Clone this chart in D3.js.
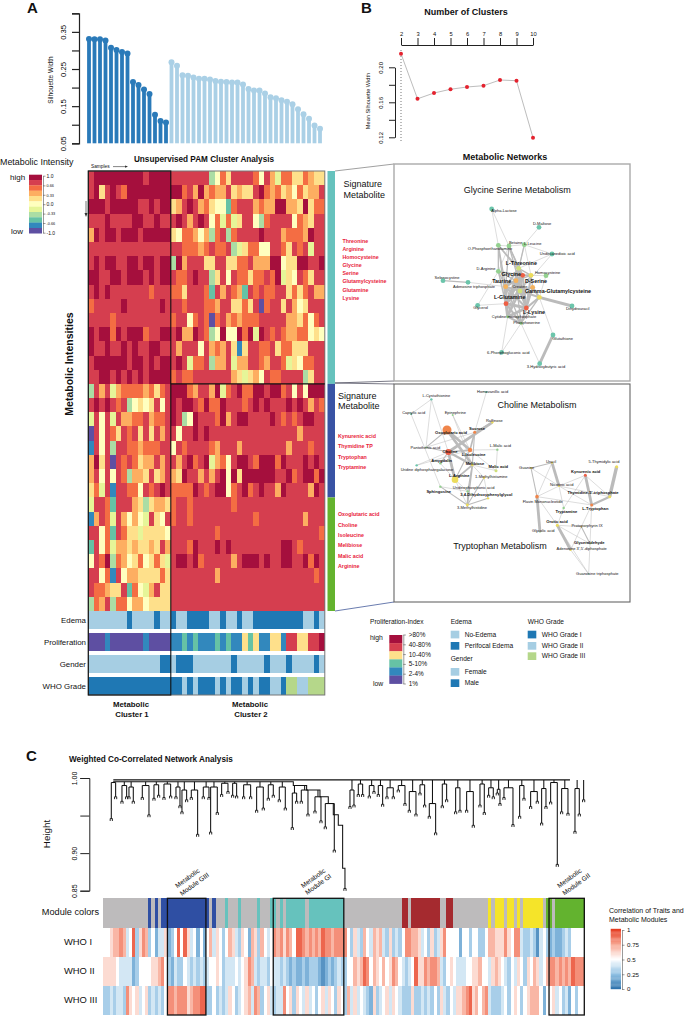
<!DOCTYPE html>
<html>
<head>
<meta charset="utf-8">
<script src="https://cdn.jsdelivr.net/npm/d3@7"></script>
<style>
body { margin: 0; background: #fff; }
svg { display: block; font-family: "Liberation Sans", Arial, sans-serif; }
.cells rect { shape-rendering: crispEdges; }
</style>
</head>
<body>
<svg id="fig" width="685" height="1016"></svg>
<script>
// panel A silhouette widths
const silCluster1 = [.331,.330,.330,.327,.307,.301,.296,.292,.215,.207,.195,.183,.127,.110,.106];
const silCluster2 = [.268,.259,.233,.232,.227,.224,.224,.222,.218,.216,.215,.214,.214,.208,.196,.192,.192,.184,.174,.171,.166,.162,.155,.142,.128,.116,.098,.089];
// panel B
const clusterCounts = [2,3,4,5,6,7,8,9,10];
const meanSil = [.2155,.164,.1706,.1749,.1775,.179,.1855,.1847,.1195];

// heatmap, one letter per cell, a = 1.0 ... k = -1.0
const heatLevels = ["a","b","c","d","e","f","g","h","i","j","k"];
const heatColors = ["#a50f3d","#d53e4f","#f46d43","#fdae61","#fee08b","#ffffbf","#e6f598","#abdda4","#66c2a5","#3288bd","#5e4fa2"];
const heatRows = [
  "baaaaaaaaabaaaa"+"bbbbbbbhfcebbbbcfbdgcceecdee",
  "baebabcaaaaaaaa"+"aacbdadcddbedeebacdcedfceddb",
  "aaabaaaaabbabaa"+"edbabdcefficbbbdcddaaddeaecc",
  "bbbabbbbaabbabb"+"babdbabfcgcgebbfhcbbbbfcdebb",
  "dabaabaaabaaaaa"+"efccdfdhcbhcbbbbabbbdcccdabb",
  "bbbbbbbbbbbbbbb"+"bbcccdcbccbhgeccffbbcebcbgbb",
  "babaabbaabaabaa"+"hadbbbeebbeeccbdddaafeeaabba",
  "aabbaabaaababaa"+"bccbabbhebfbcceccbcagefbcebb",
  "bababbbbbbbcbbb"+"ccebbbcibdbcdibcbccbbececbdd",
  "cbbbbbabbbbbbab"+"bbcbbbccdbbeecebkcbbebdfebbb",
  "bbbbcbbbbbbbbbb"+"cbbfcbckcbdcdcccbbbbbddecfcb",
  "abaacabaaacbbaa"+"baddabchfaffacagabcbcddccfef",
  "abbabbababbaabb"+"bdbbbfbdcdbejebbccbecceeebbb",
  "baaaaaabaababaa"+"babgccbhddbgddbbcdbbcgefccbb",
  "bbaababababaaaa"+"cbccbbbbbbbdegedfbccbbbbhebb",
  "hbdbgdccccdcecb"+"aaacdbbdagcbaccaabaacbfbfaaa",
  "bababcbhfefebfb"+"abaabcaccabbbcbababbbababdbc",
  "gbfbgbddccbdccb"+"abhfabbbcadbaabbbbabcbcbaabb",
  "kbfbcebcbebebdb"+"bfbbababbbbbbbbbbbbbbbbdbbbb",
  "jbfbhbbccdcccbb"+"fbcbbbbcdbbbdbbbbbbbbdbbbcbb",
  "daebkbcbceddbdb"+"bdbacbagdcfbaabcaaacabbbabab",
  "dbfbfbchddebedb"+"deabbdbdbafaeaaaaaabbacbaaca",
  "ecgbjbbccfbcbab"+"ccccabcbaafcbacbabbdabbbbdab",
  "gbbcibbbdehedde"+"cbbcbbbbbbbcbbbbbbbbbbbbbbbb",
  "jdbcgbdfdfgbefb"+"cbbcbbbbbbbbbbbcbbbbbbbbdbbb",
  "bbfcibceegeeeef"+"bbbbbbbbcbbbbbbbbbbbbbbbbbbc",
  "ibfcgddedeedebd"+"bbbcabbbababbbbbbbbbaabcbbbb",
  "fbcahcdfecfeceg"+"baabacbbbbbdbaaababbaabbacab",
  "bbfcjbfddeeeece"+"bbbbbbbbdbbbbbbbbbbbbbbbbbcb",
  "bccdeebicfgdbee"+"bbbbbbbbbbbbbbbbbbbbbbbbbbbb",
  "hcdbhccfddfeeee"+"bbbbbbbbbbbbbbbbbbbbbbbbbbbb"
];
const sideGroups = [["#66c2bd",15],["#3953a4",8],["#64b32e",8]];

// annotation strips, L/D/G = light blue, dark blue, green, others as heat letters
const stripNames = ["Edema","Proliferation","Gender","WHO Grade"];
const stripRows = [
  "LLLLLLLDLLLLDLL"+"DLLDDDDLLDLLDLLDDDDDDDDDLLDL",
  "kkkjkkkkkkjkkkk"+"jjijijjjijijjeiejjeejbbeebba",
  "LLLLLLLLLLLLLDD"+"LDDDLLLLLLLDLLLLLDLLLDLLLLDL",
  "DDDDDDDDDDDDDDD"+"DDLDLDDDLDLDDLDLDDLLDGGLLGGG"
];

const sigList1 = ["Threonine","Arginine","Homocysteine","Glycine","Serine","Glutamylcysteine","Glutamine","Lysine"];
const sigList2 = ["Kynurenic acid","Thymidine TP","Tryptophan","Tryptamine"];
const sigList3 = ["Oxoglutaric acid","Choline","Isoleucine","Melibiose","Malic acid","Arginine"];

// network nodes: name, layout x, layout y, colour group, label x, label y, hub, size
const netColors = ["#6cc5ab","#93d18f","#cfe07a","#ecdc5c","#f5b25c","#ee5f45","#f0854a"];
const glyNodes = [
  ["Alpha-Lactose",485,147,0,522,153,0,2.4],["D-Maltose",627,202,0,636,192,0,2.4],["O-Phosphoethanolamine",505,256,1,480,265,0,2.4],
  ["Betaine",537,258,1,557,247,0,2.4],["L-Leucine",583,254,1,608,252,0,2.4],["Undecanedioic acid",666,282,0,682,281,0,2.4],
  ["D-Arginine",505,334,1,468,326,0,2.4],["L-Threonine",566,325,2,574,312,1,2.4],["Glycine",578,346,5,544,345,1,2.4],
  ["D-Serine",603,346,3,618,365,1,2.4],["Homocysteine",648,347,1,653,338,0,2.4],["Selenocystine",339,362,0,351,352,0,2.4],
  ["Adenosine triphosphate",414,367,0,432,380,0,2.4],["",558,362,4,0,0,0,2.4],["Taurine",527,380,4,515,366,1,2.4],
  ["Creatine",570,393,2,570,380,0,2.4],["",608,382,4,0,0,0,2.4],["Gamma-Glutamylcysteine",628,412,3,684,396,1,2.4],
  ["L-Glutamine",528,431,5,539,414,1,2.4],["L-Lysine",589,444,5,612,458,1,2.4],["Glycerol",443,436,0,452,443,0,2.4],
  ["Dihydrouracil",726,438,0,743,445,0,2.4],["Cytidine monophosphate",533,470,1,552,471,0,1.5],["Phosphoserine",573,490,1,590,489,0,1.5],
  ["Glutathione",669,525,0,698,535,0,2.4],["6-Phosphogluconic acid",515,577,0,535,577,0,2.4],["3-Hydroxybutyric acid",629,611,0,648,620,0,2.4]
];
const glyLinks = [[0,2,1],[0,3,1],[1,4,1],[2,3,1],[3,4,1],[11,12,2],[12,14,1],[20,18,1],[20,6,1],[17,21,4],[17,24,1],[24,26,4],[23,26,1],[23,25,1],[25,22,1],[5,4,1],[5,7,1],[5,15,1],
  [2,6,2],[2,7,2],[2,8,2],[2,14,2],[2,18,2],[3,6,1],[3,7,2],[3,8,2],[3,14,2],[3,19,2],[4,7,1],[4,9,1],[4,13,2],[6,8,2],[6,13,2],[6,14,2],[6,18,2],[7,8,3],[7,9,2],[7,13,2],[7,14,3],[7,15,2],[7,18,2],[7,19,2],
  [8,9,3],[8,13,3],[8,14,3],[8,15,3],[8,18,4],[8,19,3],[8,22,2],[9,10,1],[9,13,2],[9,15,2],[9,16,2],[9,19,3],[13,14,3],[13,15,3],[13,18,3],[13,19,3],[13,22,2],[13,23,2],[14,15,3],[14,18,4],[14,19,3],[14,22,3],[14,23,2],
  [15,16,3],[15,17,3],[15,18,3],[15,19,3],[15,22,3],[16,17,3],[16,19,3],[17,19,3],[17,23,2],[18,19,4],[18,22,4],[18,23,3],[19,22,4],[19,23,3],[22,23,3],[10,17,1],[6,22,1],[16,23,1]];
const choNodes = [
  ["L-Cystathionine",304,58,0,319,48,0,1.2],["Homovanillic acid",469,36,0,488,35,0,1],["Caprylic acid",243,102,0,251,99,0,1],
  ["Epinephrine",368,105,1,376,99,0,1],["Raffinose",487,127,3,493,121,0,1.2],["Oxoglutaric acid",351,150,6,363,158,1,4.5],
  ["Sucrose",434,157,6,441,146,1,1.5],["Pantothenic acid",288,202,1,286,203,0,0.8],["Choline",355,216,5,360,215,1,3],
  ["L-Isoleucine",420,210,6,431,223,1,2.2],["L-Malic acid",502,209,1,511,198,0,1.2],["Amygdalin",331,250,1,335,242,1,1.2],
  ["Melibiose",427,255,3,435,251,1,1.2],["Uridine diphosphategalactose",260,256,0,291,270,0,1.2],["Malic acid",498,272,2,505,260,1,1.5],
  ["L-Arginine",375,299,3,388,287,1,3.3],["1-Methylhistamine",462,293,3,484,291,0,1.2],["Sphingosine",331,320,1,326,334,1,1.2],
  ["Uridinephosphonic acid",413,334,1,431,324,0,1.2],["3,4-Dihydroxyphenylglycol",474,355,3,469,344,1,1.2],["3-Methylhistidine",412,375,3,426,384,0,1.4]
];
const choLinks = [[0,2,1],[0,8,1],[0,7,1],[1,6,1],[2,17,1],[3,12,1],[3,9,1],[4,8,5],[5,9,5],[5,12,5],[6,9,3],[6,12,2],[7,8,2],[7,6,1],[8,15,5],[8,12,4],[8,9,3],[9,15,2],[12,15,3],[9,10,1],[9,14,1],[10,14,1],[12,14,1],[12,16,1],[13,8,1],[13,9,1],[12,20,3],[12,18,2],[16,20,2],[17,20,2],[18,20,2],[19,20,2],[16,19,1],[15,18,1],[15,20,1],[17,18,1],[5,7,2],[8,11,2],[11,15,1],[4,6,2]];
const tryNodes = [
  ["Guanine",603,264,3,590,262,0,1],["Uracil",666,248,3,663,244,0,1],["5-Thymidylic acid",860,260,3,822,245,0,1.5],
  ["Kynurenic acid",766,286,5,767,275,1,1.5],["Nicotinic acid",687,318,3,695,313,0,1],["Thymidine-5'-triphosphate",839,350,3,789,338,1,1.5],
  ["Flavin Mononucleotide",621,350,6,638,364,0,1.8],["L-Tryptophan",785,375,6,796,385,1,1.5],["Tryptamine",701,384,1,709,396,1,1.2],
  ["Orotic acid",682,436,3,681,425,1,1.5],["Protoporphyrin IX",754,440,3,771,437,0,0.8],["Glycolic acid",630,456,1,640,452,0,0.8],
  ["Glyceraldehyde",780,491,1,778,488,1,0.8],["Adenosine 3',5'-diphosphate",722,510,3,755,507,0,1],["Guanosine triphosphate",776,582,0,802,581,0,0.8]
];
const tryLinks = [[0,1,2],[0,4,1],[0,6,2],[6,11,5],[1,4,5],[1,6,1],[2,5,6],[3,4,1],[3,5,1],[3,7,5],[4,5,1],[4,7,1],[4,8,1],[5,7,4],[6,9,1],[6,7,1],[8,9,1],[9,10,1],[9,13,5],[9,12,1],[10,13,1],[10,12,2],[9,14,1],[12,14,1],[13,14,1],[7,10,1],[7,12,1],[3,8,1],[4,6,1]];

// legends
const heatTicks = [1,.66,.33,0,-.33,-.66,-1];
const prolifLabels = [">80%","40-80%","10-40%","5-10%","2-4%","1%"];
const prolifLevels = ["a","b","e","i","j","k"];
const stripColors = {L:"#a6cee3",D:"#1f78b4",G:"#b5d78a"};

// panel C: dendrogram stems, leaf position, top height, leaf height
const dendroStems = [
  [334,.984,.946],[347,.994,.975],[366,.990,.969],[380,.988,.975],[387,.988,.975],[400,.980,.969],[427,.988,.974],[447,.990,.951],[462,.986,.973],[476,.991,.977],
  [492,.990,.974],[512,.992,.976],[528,.988,.975],[540,.977,.963],[546,.968,.955],[560,.984,.971],[574,.984,.974],[593,.973,.925],[610,.988,.975],[627,.977,.974],
  [632,.977,.928],[652,.988,.954],[665,.992,.978],[684,.993,.982],[698,.987,.977],[710,.993,.976],[731,.991,.975],[752,.991,.975],[770,.977,.957],[790,.988,.960],
  [805,.988,.973],[820,.991,.977],[838,.988,.971],[856,.977,.960],[877,.973,.934],[890,.980,.969],[904,.984,.969],[924,.978,.952],[945,.975,.956],[963,.973,.943],
  [976,.966,.935],[1003,.951,.904],
  [1050,.984,.962],[1062,.984,.964],[1075,.992,.978],[1088,.992,.978],[1108,.987,.976],[1122,.990,.982],[1135,.990,.978],[1148,.988,.965],[1161,.986,.975],[1180,.987,.975],
  [1195,.990,.984],[1215,.980,.966],[1228,.982,.957],[1248,.978,.952],[1260,.987,.980],[1274,.991,.964],[1288,.966,.949],[1307,.966,.927],[1327,.975,.963],[1340,.992,.971],
  [1367,.973,.955],[1380,.987,.957],[1400,.982,.957],[1420,.978,.937],[1440,.982,.964],[1453,.992,.954],[1466,.987,.977],[1480,.982,.975],[1492,.985,.980],[1500,.977,.966],
  [1512,.987,.974],[1539,.966,.938],[1559,.987,.949],[1572,.990,.973],[1592,.982,.962],[1612,.973,.969],[1625,.966,.940],[1638,.986,.962],[1652,.986,.968],[1672,.994,.885],
  [1685,.986,.955],[1704,.968,.953],[1725,.974,.929],[1738,.986,.952],[1751,.977,.971]
];
// left arm of the tree, falling towards the tallest merge
const spinePos = [340,880,920,960,985,1000,1015,1028,1028,1035,1035];
const spineH = [.995,.990,.984,.975,.966,.951,.937,.927,.880,.880,.853];

const moduleRuns = [["g",14],["b",1],["g",1],["b",1],["g",1],["b",15],["g",1],["b",1],["g",3],["t",1],["g",3],["t",1],["g",5],["t",1],["g",3],["t",2],["g",1],["t",1],["g",1],["t",6],["g",1],["t",11],["g",18],["r",2],["g",1],["r",9],["g",2],["r",2],["g",11],["y",1],["g",1],["y",3],["g",1],["y",2],["g",1],["y",1],["g",1],["y",6],["g",1],["n",2],["g",1],["n",9]];
const moduleColors = {g:"#bdbbbc",b:"#2f4fa3",t:"#66c2bd",r:"#a52a2f",y:"#f5e429",n:"#63b32f"};
// trait correlation, digit / 10 = value
const traitNames = ["WHO I","WHO II","WHO III"];
const traitRows = [
  "5567787459"+"3687352446"+"2359596452"+"5257465357"+"6436527637"+"5458786875"+"9987878798"+"8788885364"+"3754767436"+"3435887764"+"5363468555"+"5255355335"+"7766686588"+"4334314532"+"3223435555",
  "6666544442"+"3555566785"+"3243354343"+"4345565344"+"4545687434"+"4354434323"+"2232333212"+"3234335576"+"7985765756"+"8754345966"+"8788743565"+"4445566755"+"4676543546"+"5365764578"+"8787879888",
  "3343443865"+"6456343435"+"8878886788"+"9933534346"+"5345674873"+"5643448563"+"6546453564"+"6536537464"+"5432634564"+"6543336334"+"3435364354"+"6678967578"+"4333453565"+"3567775255"+"6453425355"
];
const moduleBoxes = [["Module GIII",20,32,2,9],["Module GI",53,75,6,11],["Module GII",139,150,4,11]];
const corrTicks = [1,.75,.5,.25,0];

const svg = d3.select("#fig");
const heatColor = d3.scaleOrdinal(heatLevels, heatColors);
const cellColor = c => stripColors[c] || heatColor(c);

const text = (x, y, str, size, opts = {}) => svg.append("text")
  .attr("x", x).attr("y", y).text(str)
  .attr("font-size", size)
  .attr("font-weight", opts.bold ? "bold" : null)
  .attr("text-anchor", opts.anchor || "start")
  .attr("fill", opts.fill || "#111")
  .attr("transform", opts.rotate ? `rotate(${opts.rotate} ${x} ${y})` : null);

// rotated tick labels as in base R plots
const rotateTicks = (g, dist, size) => {
  g.selectAll("text")
    .attr("transform", "rotate(-90)")
    .attr("x", 0).attr("dy", 0).attr("y", -dist)
    .attr("text-anchor", "middle")
    .attr("font-size", size)
    .attr("font-family", null);
};

text(27, 13, "A", 15, {bold: true});
text(361, 13, "B", 15, {bold: true});
text(26, 761, "C", 15, {bold: true});

// ---- panel A, silhouette
const silValues = silCluster1.concat(silCluster2);
const xSil = d3.scaleBand().domain(d3.range(silValues.length)).range([86.25, 322.75]);
const ySil = d3.scaleLinear().domain([.05, .4]).range([143.3, 13.3]);
const silColor = i => i < silCluster1.length ? "#2a7ab9" : "#aad0e6";

const axisA = svg.append("g").attr("transform", "translate(79,0)")
  .call(d3.axisLeft(ySil).tickValues([.05,.1,.15,.2,.25,.3,.35,.4]).tickSize(7)
    .tickFormat(d => [.05,.15,.25,.35].includes(d) ? d3.format(".2f")(d) : ""));
axisA.selectAll("path,line").attr("stroke", "#222").attr("stroke-width", 1.2);
rotateTicks(axisA, 13, 7.6);
text(53, 80, "Silhouette Width", 6.5, {anchor: "middle", rotate: -90});

svg.append("g").selectAll("line").data(silValues).join("line")
  .attr("x1", (d, i) => xSil(i) + xSil.bandwidth() / 2)
  .attr("x2", (d, i) => xSil(i) + xSil.bandwidth() / 2)
  .attr("y1", ySil(.05)).attr("y2", d => ySil(d))
  .attr("stroke", (d, i) => silColor(i)).attr("stroke-width", 3.8);
svg.append("g").selectAll("circle").data(silValues).join("circle")
  .attr("cx", (d, i) => xSil(i) + xSil.bandwidth() / 2)
  .attr("cy", d => ySil(d)).attr("r", 3)
  .attr("fill", (d, i) => silColor(i));

// ---- panel B, mean silhouette
const xB = d3.scalePoint().domain(clusterCounts).range([401, 533]);
const yB = d3.scaleLinear().domain([.12, .2]).range([137.3, 67.3]);
text(466, 15, "Number of Clusters", 9, {bold: true, anchor: "middle"});
const axisBx = svg.append("g").attr("transform", "translate(0,45)").call(d3.axisTop(xB).tickSize(7).tickSizeOuter(0));
axisBx.selectAll("path,line").attr("stroke", "#222").attr("stroke-width", 1);
axisBx.selectAll("text").attr("font-size", 5.8).attr("font-family", null).attr("dy", 1).attr("fill", "#111");
const axisBy = svg.append("g").attr("transform", "translate(395,0)")
  .call(d3.axisLeft(yB).tickValues([.12,.14,.16,.18,.2]).tickSize(6).tickSizeOuter(0)
    .tickFormat(d => [.12,.16,.2].includes(d) ? d3.format(".2f")(d) : ""));
axisBy.selectAll("path,line").attr("stroke", "#222").attr("stroke-width", 1);
rotateTicks(axisBy, 12, 6);
text(370, 101, "Mean Silhouette Width", 5.6, {anchor: "middle", rotate: -90});
svg.append("line").attr("x1", xB(2)).attr("x2", xB(2)).attr("y1", 50).attr("y2", 143)
  .attr("stroke", "#777").attr("stroke-width", 1).attr("stroke-dasharray", "1,2");
svg.append("path").datum(meanSil)
  .attr("d", d3.line().x((d, i) => xB(clusterCounts[i])).y(d => yB(d)))
  .attr("fill", "none").attr("stroke", "#bdbdbd").attr("stroke-width", 1);
svg.append("g").selectAll("circle").data(meanSil).join("circle")
  .attr("cx", (d, i) => xB(clusterCounts[i])).attr("cy", d => yB(d)).attr("r", 2)
  .attr("fill", "#e4222e");

// ---- heatmap
text(204, 162, "Unsupervised PAM Cluster Analysis", 8.2, {bold: true, anchor: "middle"});
text(0, 165, "Metabolic Intensity", 8.9);
text(91, 168, "Samples", 4.8);
svg.append("line").attr("x1", 113).attr("x2", 127).attr("y1", 166.6).attr("y2", 166.6).attr("stroke", "#333").attr("stroke-width", .6);
svg.append("path").attr("d", "M128,166.6l-3,-1.2v2.4z").attr("fill", "#333");
text(73, 364, "Metabolic Intensities", 10.5, {bold: true, anchor: "middle", rotate: -90});
svg.append("line").attr("x1", 86).attr("x2", 86).attr("y1", 201).attr("y2", 215).attr("stroke", "#555").attr("stroke-width", .8);
svg.append("path").attr("d", "M86,217l-1.5,-4h3z").attr("fill", "#333");

const nCols = heatRows[0].length;
const xHeat = d3.scaleBand().domain(d3.range(nCols)).range([88.3, 324.8]);
const yHeat = d3.scaleBand().domain(d3.range(heatRows.length)).range([171, 611]);
const heatG = svg.append("g").attr("class", "cells");
heatRows.forEach((row, r) => {
  heatG.append("g").selectAll("rect").data(row.split("")).join("rect")
    .attr("x", (d, c) => xHeat(c)).attr("y", yHeat(r))
    .attr("width", xHeat.bandwidth() + .6).attr("height", yHeat.bandwidth() + .6)
    .attr("fill", d => heatColor(d));
});

// annotation strips under the heatmap
const yStrip = d3.scaleBand().domain(stripNames).range([611, 695]).paddingInner(.18);
stripRows.forEach((row, s) => {
  svg.append("g").attr("class", "cells").selectAll("rect").data(row.split("")).join("rect")
    .attr("x", (d, c) => xHeat(c)).attr("y", yStrip(stripNames[s]))
    .attr("width", xHeat.bandwidth() + .6).attr("height", yStrip.bandwidth())
    .attr("fill", d => cellColor(d));
  text(86, yStrip(stripNames[s]) + yStrip.bandwidth() / 2 + 2.6, stripNames[s], 7.9, {anchor: "end"});
});

const split = xHeat(silCluster1.length);
svg.append("rect").attr("x", 88.3).attr("y", 171).attr("width", 236.5).attr("height", 524)
  .attr("fill", "none").attr("stroke", "#777").attr("stroke-width", 1);
svg.append("rect").attr("x", 88.3).attr("y", 171).attr("width", split - 88.3).attr("height", 524)
  .attr("fill", "none").attr("stroke", "#111").attr("stroke-width", 1.1);
svg.append("line").attr("x1", split).attr("x2", 324.8).attr("y1", yHeat(15)).attr("y2", yHeat(15))
  .attr("stroke", "#111").attr("stroke-width", 1.1);

let sideStart = 0;
sideGroups.forEach(([color, count]) => {
  svg.append("rect").attr("x", 327.5).attr("width", 7.5)
    .attr("y", yHeat(sideStart)).attr("height", yHeat.bandwidth() * count).attr("fill", color);
  sideStart += count;
});

text(131, 707, "Metabolic", 7.8, {bold: true, anchor: "middle"});
text(132, 717, "Cluster 1", 7.8, {bold: true, anchor: "middle"});
text(250, 707, "Metabolic", 7.8, {bold: true, anchor: "middle"});
text(251, 717, "Cluster 2", 7.8, {bold: true, anchor: "middle"});

// heat colour legend
const yLegend = d3.scaleBand().domain(heatLevels).range([174.7, 233.3]);
svg.append("g").selectAll("rect").data(heatLevels).join("rect")
  .attr("x", 29).attr("width", 13).attr("y", d => yLegend(d)).attr("height", yLegend.bandwidth() + .2)
  .attr("fill", d => heatColor(d));
const yLegendAxis = d3.scaleLinear().domain([1, -1]).range([175.7, 232.7]);
const axisLeg = svg.append("g").attr("transform", "translate(43,0)")
  .call(d3.axisRight(yLegendAxis).tickValues(heatTicks).tickSize(2.5).tickSizeOuter(0)
    .tickFormat(d => d === 0 ? "0.0" : d === 1 ? "1.0" : d === -1 ? "-1.0" : String(d)));
axisLeg.selectAll("path,line").attr("stroke", "#555").attr("stroke-width", .6);
axisLeg.selectAll("text").attr("font-size", d => Math.abs(d) === 1 || d === 0 ? 5 : 3.8).attr("font-family", null).attr("x", 3.5).attr("fill", "#111");
text(10, 180, "high", 8);
text(11, 234, "low", 8);

// ---- signature metabolites and connectors
text(343.5, 187, "Signature", 9);
text(343.5, 198, "Metabolite", 9);
text(338, 398.5, "Signature", 9);
text(338, 409, "Metabolite", 9);
const redList = (items, x, y0, step) => items.forEach((t, i) => text(x, y0 + i * step, t, 5.3, {bold: true, fill: "#e8213a"}));
redList(sigList1, 342.5, 242.8, 8.12);
redList(sigList2, 338, 438, 10.35);
redList(sigList3, 338, 516.3, 10.35);

[[335,171,394,164,"#888"],[335,383,394,381,"#556"],[335,383,394,384,"#556"],[335,611,394,602,"#445a9a"]].forEach(l => {
  svg.append("line").attr("x1", l[0]).attr("y1", l[1]).attr("x2", l[2]).attr("y2", l[3]).attr("stroke", l[4]).attr("stroke-width", .8);
});

// ---- networks
text(505, 160, "Metabolic Networks", 9, {bold: true, anchor: "middle"});
const drawNet = (nodes, links, xN, yN, labelSize, hubSize, maxWidth) => {
  const wScale = d3.scaleLinear().domain([1, 6]).range([.5, maxWidth]);
  const g = svg.append("g");
  g.selectAll("line").data(links).join("line")
    .attr("x1", d => xN(nodes[d[0]][1])).attr("y1", d => yN(nodes[d[0]][2]))
    .attr("x2", d => xN(nodes[d[1]][1])).attr("y2", d => yN(nodes[d[1]][2]))
    .attr("stroke", "#bbb").attr("stroke-width", d => wScale(d[2]));
  g.selectAll("circle").data(nodes).join("circle")
    .attr("cx", d => xN(d[1])).attr("cy", d => yN(d[2])).attr("r", d => d[7])
    .attr("fill", d => netColors[d[3]]);
  g.selectAll("text").data(nodes.filter(d => d[0])).join("text")
    .attr("x", d => xN(d[4])).attr("y", d => yN(d[5]) + 1.4)
    .attr("text-anchor", "middle")
    .attr("font-size", d => d[6] ? hubSize : labelSize)
    .attr("font-weight", d => d[6] ? "bold" : null)
    .attr("fill", "#111").text(d => d[0]);
};

svg.append("rect").attr("x", 394).attr("y", 164).attr("width", 236).attr("height", 217)
  .attr("fill", "#fff").attr("stroke", "#aaa").attr("stroke-width", 1.4);
svg.append("rect").attr("x", 394).attr("y", 384).attr("width", 236).attr("height", 218)
  .attr("fill", "#fff").attr("stroke", "#666").attr("stroke-width", 1.1);

const xNet = d3.scaleLinear().domain([0, 1065]).range([330, 685]);
const yNet1 = d3.scaleLinear().domain([0, 675]).range([160, 385]);
const yNet2 = d3.scaleLinear().domain([0, 690]).range([380, 610]);
text(517.3, 193, "Glycine Serine Metabolism", 9, {anchor: "middle"});
text(537, 408, "Choline Metabolism", 9, {anchor: "middle"});
text(500, 549, "Tryptophan Metabolism", 9, {anchor: "middle"});
drawNet(glyNodes, glyLinks, xNet, yNet1, 4, 5.4, 4.5);
drawNet(choNodes, choLinks, xNet, yNet2, 4, 4.1, 3.4);
drawNet(tryNodes, tryLinks, xNet, yNet2, 4, 4.1, 3.4);

// ---- proliferation and grade legends
text(370, 623.5, "Proliferation-Index", 6.6);
const yProlif = d3.scaleBand().domain(prolifLevels).range([635, 683.7]);
svg.append("g").selectAll("rect").data(prolifLevels).join("rect")
  .attr("x", 389.3).attr("width", 13).attr("y", d => yProlif(d)).attr("height", yProlif.bandwidth() + .2)
  .attr("fill", d => heatColor(d));
const yProlifAxis = d3.scalePoint().domain(prolifLabels).range([634.5, 683.5]);
const axisPro = svg.append("g").attr("transform", "translate(403.3,0)")
  .call(d3.axisRight(yProlifAxis).tickSize(2.5).tickSizeOuter(0));
axisPro.selectAll("path,line").attr("stroke", "#555").attr("stroke-width", .6);
axisPro.selectAll("text").attr("font-size", 6.4).attr("font-family", null).attr("x", 5.5).attr("fill", "#111");
text(370, 640, "high", 6.8);
text(373, 685.5, "low", 6.8);

const legendBlock = (x, title, titleY, items) => {
  text(x, titleY, title, 6.6);
  items.forEach(([label, color, y]) => {
    svg.append("rect").attr("x", x).attr("y", y).attr("width", 8.6).attr("height", 7.7).attr("fill", stripColors[color]);
    text(x + 14, y + 6, label, 6.6);
  });
};
legendBlock(450.7, "Edema", 623.5, [["No-Edema","L",630.7],["Perifocal Edema","D",642]]);
legendBlock(450.7, "Gender", 661, [["Female","L",668],["Male","D",679.3]]);
legendBlock(527.7, "WHO Grade", 623.5, [["WHO Grade I","D",630.7],["WHO Grade II","L",642],["WHO Grade III","G",652.3]]);

// ---- panel C
text(69, 762, "Weighted Co-Correlated Network Analysis", 8.2, {bold: true});
const xTree = d3.scaleLinear().domain([310, 1753]).range([103.3, 584.3]);
const yTree = d3.scaleLinear().domain([.85, 1]).range([890.7, 778]);
const axisC = svg.append("g").attr("transform", "translate(89.3,0)")
  .call(d3.axisLeft(yTree).tickValues([.85,.9,.95,1]).tickSize(9)
    .tickFormat(d => d === .95 ? "" : d3.format(".2f")(d)));
axisC.selectAll("path,line").attr("stroke", "#222").attr("stroke-width", 1);
rotateTicks(axisC, 12, 7);
text(50, 834, "Height", 9.8, {anchor: "middle", rotate: -90});

const treeSegs = [];
const seg = (p1, h1, p2, h2) => treeSegs.push([p1, h1, p2, h2]);
const spineAt = p => {
  if (p > 1035) return .9975;
  return spineH[Math.max(0, d3.bisectRight(spinePos.slice(0, 8), p) - 1)];
};
for (let i = 0; i + 1 < dendroStems.length; i += 2) {
  const a = dendroStems[i], b = dendroStems[i + 1];
  const top = Math.max(a[1], b[1]);
  const mid = (a[0] + b[0]) / 2;
  seg(a[0], top, b[0], top);
  seg(mid, top, mid, Math.max(spineAt(mid), top));
  [a, b].forEach(s => seg(s[0], top, s[0], s[2]));
}
if (dendroStems.length % 2) {
  const s = dendroStems[dendroStems.length - 1];
  seg(s[0], .9975, s[0], s[2]);
}
seg(340, .9975, 1710, .9975);
svg.append("g").selectAll("line").data(treeSegs).join("line")
  .attr("x1", d => xTree(d[0])).attr("y1", d => yTree(d[1]))
  .attr("x2", d => xTree(d[2])).attr("y2", d => yTree(d[3]))
  .attr("stroke", "#111").attr("stroke-width", 1.05);
svg.append("path").datum(spineH)
  .attr("d", d3.line().x((d, i) => xTree(spinePos[i])).y(d => yTree(d)).curve(d3.curveStepAfter))
  .attr("fill", "none").attr("stroke", "#111").attr("stroke-width", 1.05);
// the two small legs at the end of every stem
const leafTips = dendroStems.map(s => [s[0], s[2]]).concat([[spinePos[10], spineH[10]]]);
svg.append("g").selectAll("path").data(leafTips).join("path")
  .attr("d", d => {
    const x = xTree(d[0]), y = yTree(d[1]);
    return `M${x - 1.1},${y + 2.4}V${y}H${x + 1.1}V${y + 2.4}`;
  })
  .attr("fill", "none").attr("stroke", "#111").attr("stroke-width", .9);

// module colour strip, one column per leaf
const nLeaves = traitRows[0].length;
const xLeaf = d3.scaleBand().domain(d3.range(nLeaves)).range([103.3, 584.3]);
const moduleCols = moduleRuns.flatMap(([c, n]) => d3.range(n).map(() => c));
svg.append("g").attr("class", "cells").selectAll("rect").data(moduleCols).join("rect")
  .attr("x", (d, i) => xLeaf(i)).attr("y", 898.3)
  .attr("width", xLeaf.bandwidth() + .6).attr("height", 29.4)
  .attr("fill", d => moduleColors[d]);

const corrColor = d3.scaleLinear().domain([0, .25, .5, .75, 1])
  .range(["#2f74ad", "#92c2e4", "#ffffff", "#f7a48f", "#e63d22"]);
const yTrait = d3.scaleBand().domain(traitNames).range([927.7, 1015]);
traitRows.forEach((row, r) => {
  svg.append("g").attr("class", "cells").selectAll("rect").data(row.split("").map(d => +d / 10)).join("rect")
    .attr("x", (d, i) => xLeaf(i)).attr("y", yTrait(traitNames[r]))
    .attr("width", xLeaf.bandwidth() + .6).attr("height", yTrait.bandwidth() + .4)
    .attr("fill", d => corrColor(d));
  text(64, yTrait(traitNames[r]) + yTrait.bandwidth() / 2 + 3, traitNames[r], 9.4);
});
text(99, 915, "Module colors", 9.2, {anchor: "end"});

moduleBoxes.forEach(([name, from, to, dx1, dx2]) => {
  const x0 = xLeaf(from), x1 = xLeaf(to - 1) + xLeaf.bandwidth();
  svg.append("rect").attr("x", x0).attr("y", 898.3).attr("width", x1 - x0).attr("height", 116.7)
    .attr("fill", "none").attr("stroke", "#111").attr("stroke-width", 1.3);
  const cx = (x0 + x1) / 2;
  text(cx + dx1, 880, "Metabolic", 6.6, {anchor: "middle", rotate: -36});
  text(cx + dx2, 886, name, 6.6, {anchor: "middle", rotate: -36});
});

// correlation colour bar
text(609, 913, "Correlation of Traits and", 7);
text(609, 921.5, "Metabolic Modules", 7);
const yCorr = d3.scaleLinear().domain([0, 1]).range([989, 930]);
const corrSteps = d3.range(0, 1.001, .02);
svg.append("g").selectAll("rect").data(corrSteps).join("rect")
  .attr("x", 610.7).attr("width", 10.3).attr("y", d => yCorr(d) - 1.2).attr("height", 1.4)
  .attr("fill", d => corrColor(d));
const axisCorr = svg.append("g").attr("transform", "translate(622,0)")
  .call(d3.axisRight(yCorr).tickValues(corrTicks).tickSize(2.5).tickSizeOuter(0).tickFormat(d => String(d)));
axisCorr.selectAll("path,line").attr("stroke", "#555").attr("stroke-width", .6);
axisCorr.selectAll("text").attr("font-size", 6.2).attr("font-family", null).attr("x", 5).attr("fill", "#111");
</script>
</body>
</html>
